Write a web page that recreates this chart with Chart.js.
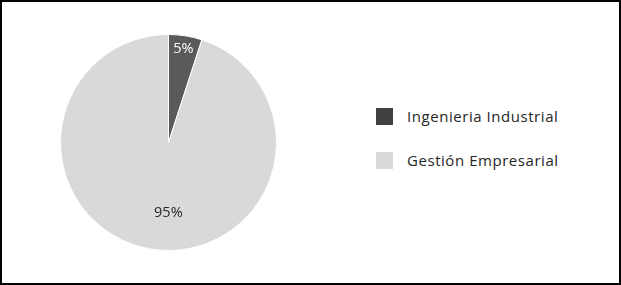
<!DOCTYPE html>
<html>
<head>
<meta charset="utf-8">
<script src="https://cdn.jsdelivr.net/npm/chart.js"></script>
<style>
  body { margin: 0; background: #fff; }
  #frame { position: relative; width: 617px; height: 281px; border: 2px solid #000; background: #fff; }
  #pieBox { position: absolute; left: -2px; top: -2px; width: 339px; height: 285px; }
  .leg { position: absolute; left: 405px; font-family: "Open Sans", sans-serif; font-size: 15px; letter-spacing: 0.55px; color: #262626; white-space: nowrap; }
  .sw { position: absolute; left: -31px; top: 2px; width: 17px; height: 17px; }
</style>
</head>
<body>
<div id="frame">
  <div id="pieBox"><canvas id="myChart"></canvas></div>
  <div id="legend"></div>
</div>
<script>
// carreras y porcentajes
const labels = ['Ingenieria Industrial', 'Gestión Empresarial'];
const values = [5, 95];
const colors = ['#5a5a5a', '#d9d9d9'];
const legendColors = ['#404040', '#d9d9d9'];
const labelColors = ['#ffffff', '#262626'];

// legend (HTML, real text)
const legendTops = [104, 148];
const legend = document.getElementById('legend');
labels.forEach((l, i) => {
    const d = document.createElement('div');
    d.className = 'leg';
    d.style.top = legendTops[i] + 'px';
    d.innerHTML = '<span class="sw" style="background:' + legendColors[i] + '"></span>' + l;
    legend.appendChild(d);
});

// percent labels drawn inside the slices
const pctLabels = {
    id: 'pctLabels',
    afterDatasetsDraw(chart) {
        const ctx = chart.ctx;
        const meta = chart.getDatasetMeta(0);
        const dist = [0.88, 0.66];
        ctx.save();
        ctx.font = '14.5px "Open Sans", sans-serif';
        ctx.textAlign = 'center';
        ctx.textBaseline = 'middle';
        meta.data.forEach((arc, i) => {
            const mid = (arc.startAngle + arc.endAngle) / 2;
            const r = arc.outerRadius * dist[i];
            const x = arc.x + Math.cos(mid) * r + (i === 1 ? 11 : 0);
            const y = arc.y + Math.sin(mid) * r;
            ctx.fillStyle = labelColors[i];
            ctx.fillText(values[i] + '%', x, y);
        });
        ctx.restore();
    }
};

const ctx = document.getElementById('myChart').getContext('2d');
new Chart(ctx, {
    type: 'pie',
    data: {
        labels: labels,
        datasets: [{
            data: values,
            backgroundColor: colors,
            borderColor: '#ffffff',
            borderWidth: 1
        }]
    },
    options: {
        responsive: true,
        maintainAspectRatio: false,
        animation: false,
        layout: { padding: { left: 60, right: 62, top: 34, bottom: 34 } },
        plugins: {
            legend: { display: false },
            tooltip: { enabled: false }
        }
    },
    plugins: [pctLabels]
});
</script>
</body>
</html>
